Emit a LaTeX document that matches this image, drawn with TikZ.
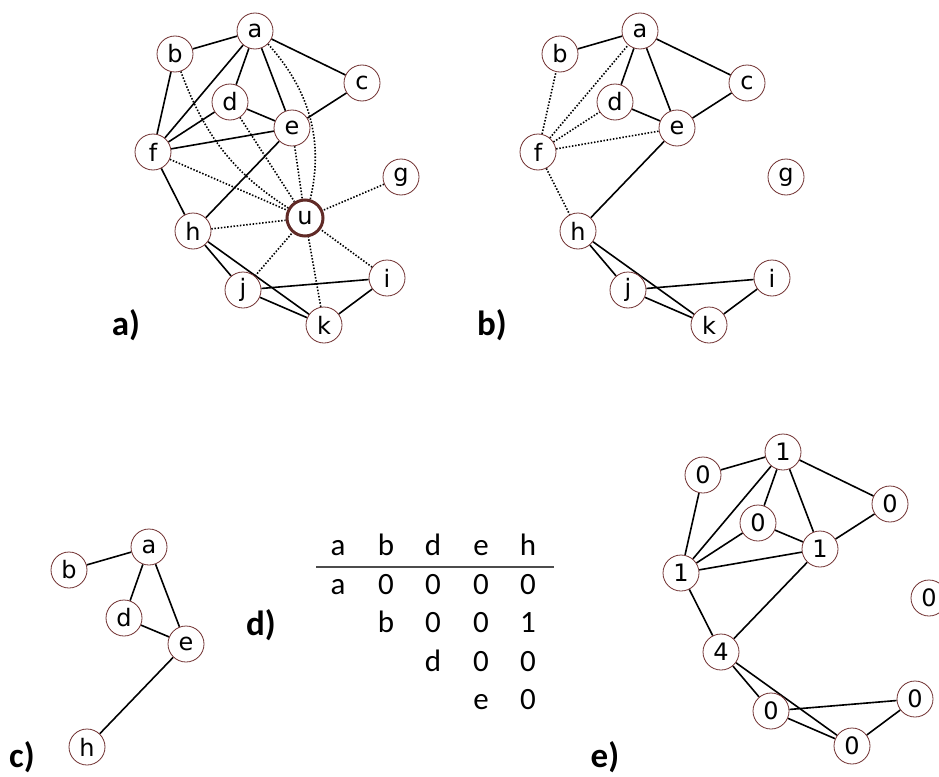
\documentclass[tikz,border=0pt]{standalone}
\usepackage{fontspec}
\setsansfont{Carlito}
\newfontfamily\vertfont{DejaVu Sans}
\usetikzlibrary{positioning,backgrounds}
\definecolor{rim}{RGB}{112,48,48}
\definecolor{rimdark}{RGB}{96,42,38}

\begin{document}
\begin{tikzpicture}[
  x=1pt, y=-1pt,
  vert/.style={circle, draw=rim, line width=0.8pt, fill=white, minimum size=36pt, inner sep=0pt,
    font=\vertfont\fontsize{24}{24}\selectfont},
  hub/.style={vert, draw=rimdark, line width=3pt},
  edge/.style={line width=1.6pt},
  weak/.style={line width=1.6pt, dash pattern=on 1.5pt off 1.7pt},
  cell/.style={anchor=base, inner sep=0pt, font=\sffamily\fontsize{31}{31}\selectfont},
  tag/.style={anchor=base, inner sep=0pt, font=\sffamily\bfseries\fontsize{35}{35}\selectfont}
]
\clip (0,0) rectangle (939,776);

% ---------- a) full graph around u ----------
\begin{scope}[name prefix=A-]
  \foreach \n/\x/\y in {a/255/31, b/175/54, c/362/83, d/230/102, e/292/128, f/153/152,
                        g/401/177, h/193/231, i/387/278, j/243/290, k/324/325}
    \node[vert] (\n) at (\x,\y) {\n};
  \node[hub] (u) at (305,218) {u};
  \begin{scope}[on background layer]
    \foreach \s/\t in {b/a, a/c, a/f, a/d, a/e, b/f, d/e, d/f, e/f, c/e, e/h, f/h, h/j, h/k, j/i, j/k, i/k}
      \draw[edge] (\s) -- (\t);
    \foreach \s in {d, e, f, h, g, j, k, i}
      \draw[weak] (\s) -- (u);
    \draw[weak] (a) to[bend left=30] (u);
    \draw[weak] (b) to[bend right=20] (u);
  \end{scope}
\end{scope}
\node[tag] (tag-a) at (126,335) {a)};

% ---------- b) u removed, f linked to its neighbours ----------
\begin{scope}[shift={(385,0)}, name prefix=B-]
  \foreach \n/\x/\y in {a/255/31, b/175/54, c/362/83, d/230/102, e/292/128, f/153/152,
                        g/401/177, h/193/231, i/387/278, j/243/290, k/324/325}
    \node[vert] (\n) at (\x,\y) {\n};
  \begin{scope}[on background layer]
    \foreach \s/\t in {b/a, a/c, a/d, a/e, d/e, c/e, e/h, h/j, h/k, j/i, j/k, i/k}
      \draw[edge] (\s) -- (\t);
    \foreach \s in {b, a, d, e, h}
      \draw[weak] (f) -- (\s);
  \end{scope}
\end{scope}
\node[tag] (tag-b) at (492,335) {b)};

% ---------- c) subgraph ----------
\begin{scope}[shift={(-106,516)}, name prefix=C-]
  \foreach \n/\x/\y in {a/255/31, b/175/54, d/230/102, e/292/128, h/193/231}
    \node[vert] (\n) at (\x,\y) {\n};
  \begin{scope}[on background layer]
    \foreach \s/\t in {b/a, a/d, a/e, d/e, e/h}
      \draw[edge] (\s) -- (\t);
  \end{scope}
\end{scope}
\node[tag] (tag-c) at (22,767) {c)};

% ---------- d) pair table ----------
\foreach \c/\x in {a/338, b/386, d/433, e/481, h/528}
  \node[cell] (head-\c) at (\x,555) {\c};
\coordinate (rule-l) at (316,567);
\coordinate (rule-r) at (554,567);
\draw[line width=1.2pt, black!70] (rule-l) -- (rule-r);
\foreach \t/\x/\y [count=\i] in {a/338/594, 0/386/594, 0/433/594, 0/481/594, 0/528/594,
                                 b/386/632, 0/433/632, 0/481/632, 1/528/632,
                                 d/433/671, 0/481/671, 0/528/671,
                                 e/481/709, 0/528/709}
  \node[cell] (cell-\i) at (\x,\y) {\t};
\node[tag] (tag-d) at (261,635) {d)};

% ---------- e) counts ----------
\begin{scope}[shift={(528,421)}, name prefix=E-]
  \foreach \n/\l/\x/\y in {a/1/255/31, b/0/175/54, c/0/362/83, d/0/230/102, e/1/292/128, f/1/153/152,
                           g/0/401/177, h/4/193/231, i/0/387/278, j/0/243/290, k/0/324/325}
    \node[vert] (\n) at (\x,\y) {\l};
  \begin{scope}[on background layer]
    \foreach \s/\t in {b/a, a/c, a/f, a/d, a/e, b/f, d/e, d/f, e/f, c/e, e/h, f/h, h/j, h/k, j/i, j/k, i/k}
      \draw[edge] (\s) -- (\t);
  \end{scope}
\end{scope}
\node[tag] (tag-e) at (605,767) {e)};
\end{tikzpicture}
\end{document}
